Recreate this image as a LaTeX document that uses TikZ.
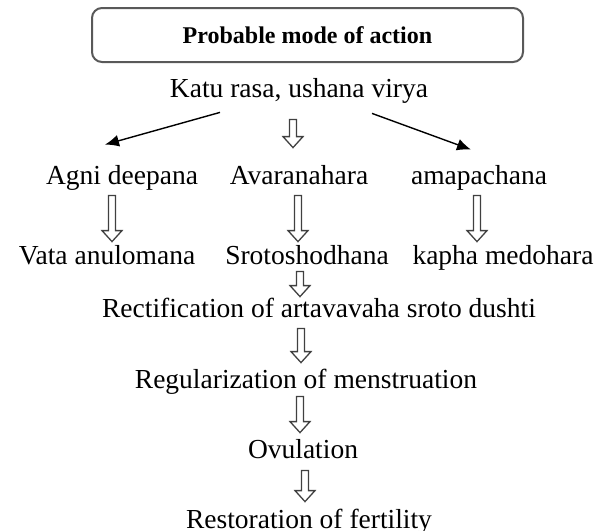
\documentclass[tikz,border=0pt]{standalone}
\usepackage{fontspec}
\setmainfont{Liberation Serif}
\usetikzlibrary{arrows.meta,calc}

% hollow block arrow going straight down from #1 to #2
\newcommand{\fatarrow}[2]{%
  \draw[hollow] let \p1=(#1), \p2=(#2) in
    (\x1-1.75pt,\y1) -- (\x1-1.75pt,\y2+5.5pt) -- (\x1-5pt,\y2+5.5pt) -- (\x1,\y2)
    -- (\x1+5pt,\y2+5.5pt) -- (\x1+1.75pt,\y2+5.5pt) -- (\x1+1.75pt,\y1) -- cycle;}

\begin{document}
\begin{tikzpicture}[
    x=0.5pt, y=-0.5pt,
    txt/.style={inner sep=0pt, anchor=base, text height=9pt, text depth=0pt,
                font=\fontsize{13.75}{16}\selectfont},
    hdr/.style={draw=black!65, line width=1pt, rounded corners=5pt,
                minimum width=215.5pt, minimum height=27pt, inner sep=0pt,
                font=\fontsize{12}{14}\selectfont\bfseries},
    darr/.style={-{Latex[length=7pt,width=6pt]}, line width=0.7pt},
    hollow/.style={draw=black!75, line width=0.65pt, line join=miter}
]
    \useasboundingbox (0,0) rectangle (607,531);

    \node[hdr] (head) at (307.5,35) {Probable mode of action};
    \node[txt] (katu) at (299,97) {Katu rasa, ushana virya};

    % three actions
    \node[txt] (agni) at (122,184) {Agni deepana};
    \node[txt] (avar) at (299,184) {Avaranahara};
    \node[txt] (amap) at (479,184) {amapachana};

    \node[txt] (vata)  at (107,264) {Vata anulomana};
    \node[txt] (sroto) at (307,264) {Srotoshodhana};
    \node[txt] (kapha) at (503,264) {kapha medohara};

    % common chain
    \node[txt] (rect) at (319,317) {Rectification of artavavaha sroto dushti};
    \node[txt] (reg)  at (306,388) {Regularization of menstruation};
    \node[txt] (ovul) at (303,458) {Ovulation};
    \node[txt] (rest) at (309,528) {Restoration of fertility};

    \draw[darr] ($(katu.south)+(-79,15)$) -- ($(agni.north)+(-17,-21)$);
    \draw[darr] ($(katu.south)+(73,16)$) -- ($(amap.north)+(-8,-16)$);

    \fatarrow{$(katu.south)+(-6,22)$}{$(avar.north)+(-6,-18)$}
    \fatarrow{$(agni.south)+(-10,11)$}{$(vata.north)+(0,-4)$}
    \fatarrow{$(avar.south)+(-1,11)$}{$(sroto.north)+(0,-4)$}
    \fatarrow{$(amap.south)+(-2,11)$}{$(kapha.north)+(0,-4)$}
    \fatarrow{$(sroto.south)+(-7,7)$}{$(rect.north)+(0,-2)$}
    \fatarrow{$(rect.south)+(-18,11)$}{$(reg.north)+(0,-7)$}
    \fatarrow{$(reg.south)+(-6,8)$}{$(ovul.north)+(0,-7)$}
    \fatarrow{$(ovul.south)+(2,12)$}{$(rest.north)+(0,-8)$}
\end{tikzpicture}
\end{document}
